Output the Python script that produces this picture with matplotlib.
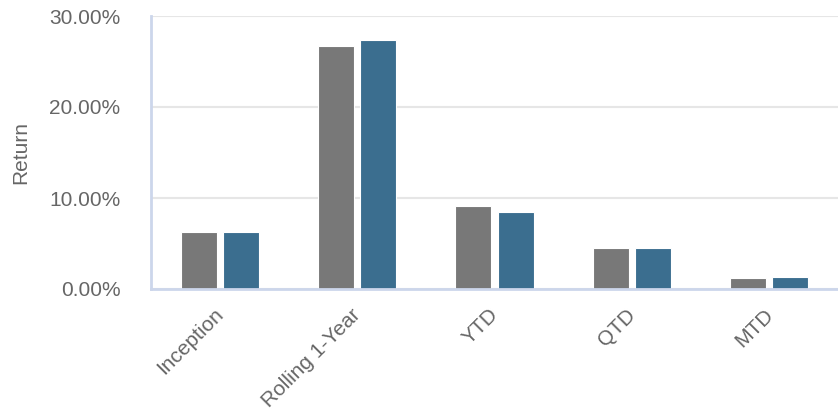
import matplotlib
matplotlib.use("Agg")
import matplotlib.pyplot as plt
import matplotlib.transforms as mtransforms
import numpy as np
from matplotlib.ticker import FuncFormatter

categories = ["Inception", "Rolling 1-Year", "YTD", "QTD", "MTD"]
series_a = [6.26, 26.7, 9.15, 4.54, 1.24]
series_b = [6.26, 27.4, 8.50, 4.54, 1.28]
y_ticks = [0, 10, 20, 30]

plt.rcParams['font.family'] = ['Liberation Sans', 'DejaVu Sans']

fig = plt.figure(figsize=(8.38, 4.13), dpi=100)
ax = fig.add_axes([151/838, (413-289)/413, 1 - 151/838, (289-16)/413])

x = np.arange(len(categories))
w = 0.262
off = 0.153
ax.bar(x - off, series_a, width=w, color="#787878", edgecolor="white", linewidth=0.8, zorder=3)
ax.bar(x + off, series_b, width=w, color="#3b6e8f", edgecolor="white", linewidth=0.8, zorder=3)

ax.set_xlim(-0.5, len(categories) - 0.5)
ax.set_ylim(0, 30)
ax.set_yticks(y_ticks)
ax.yaxis.set_major_formatter(FuncFormatter(lambda v, p: f"{v:.2f}%"))
ax.grid(axis='y', color="#e6e6e6", linewidth=1.5, zorder=0)
ax.set_axisbelow(True)

for s in ['top', 'right']:
    ax.spines[s].set_visible(False)
for s in ['left', 'bottom']:
    ax.spines[s].set_color("#ccd6eb")
    ax.spines[s].set_linewidth(2)
    ax.spines[s].set_zorder(4)

ax.tick_params(axis='y', length=0, pad=22, labelsize=15, labelcolor="#666666")
ax.tick_params(axis='x', length=0, pad=11.5, labelsize=15, labelcolor="#666666")
ax.set_xticks(x)
ax.set_xticklabels(categories, rotation=45, ha='right', rotation_mode='anchor')
shift = mtransforms.ScaledTranslation(-6/100, 0, fig.dpi_scale_trans)
for lbl in ax.get_xticklabels():
    lbl.set_transform(lbl.get_transform() + shift)
ax.set_ylabel("Return", fontsize=15, color="#666666", labelpad=14)

fig.savefig("out.png", dpi=100)
